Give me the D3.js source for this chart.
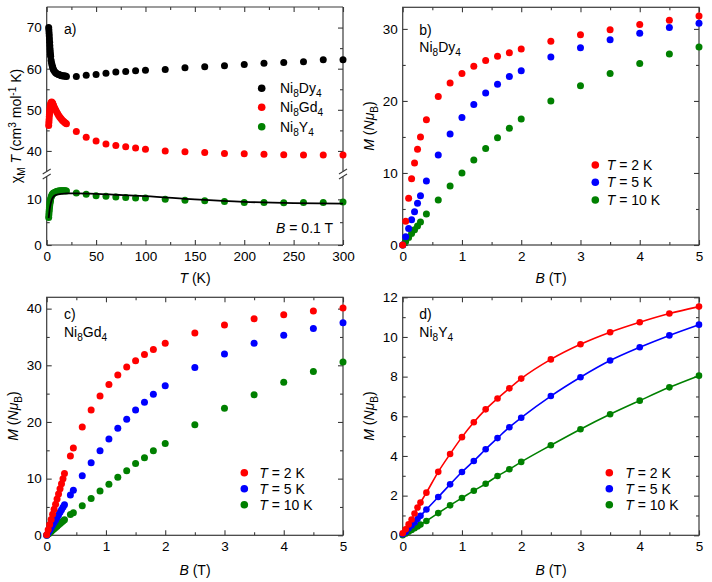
<!DOCTYPE html>
<html><head><meta charset="utf-8">
<script src="https://cdn.jsdelivr.net/npm/d3@7"></script>
<style>
body{margin:0;background:#fff}
text{font-family:"Liberation Sans",Arial,sans-serif;fill:#000}
</style>
</head><body><script>
// ---------- DATA ----------
// Panel a: chi_M T vs T (B = 0.1 T)
const T_a = [2,2.2,2.4,2.6,2.8,3,3.2,3.4,3.6,3.8,4,4.5,5,5.5,6,6.5,7,8,9,10,11,12,13,14,15,16,17,18,19,20,
             30,40,50,60,70,80,90,100,120,140,160,180,200,220,240,260,280,300];
const chiT_Dy = [70.0,69.4,68.7,68.0,67.2,66.4,65.6,64.8,64.1,63.5,63.0,62.0,61.3,60.8,60.4,60.0,59.7,59.3,59.0,58.8,58.7,58.6,58.5,58.4,58.3,58.3,58.2,58.2,58.2,58.1,
                 58.1,58.4,58.6,58.9,59.2,59.3,59.5,59.6,59.8,60.2,60.5,60.7,61.0,61.3,61.5,61.7,62.2,62.2];
const chiT_Gd = [46.2,46.9,47.6,48.3,48.9,49.5,50.0,50.5,50.9,51.2,51.5,51.8,51.9,51.8,51.6,51.3,51.0,50.5,50.0,49.5,49.1,48.7,48.3,48.0,47.7,47.4,47.2,47.0,46.8,46.6,
                 44.7,43.3,42.4,41.7,41.3,41.0,40.7,40.4,40.0,39.8,39.6,39.4,39.3,39.2,39.1,39.0,39.0,39.0];
const chiT_Y  = [6.0,6.6,7.2,7.7,8.2,8.6,9.0,9.3,9.6,9.9,10.1,10.5,10.8,11.0,11.2,11.3,11.4,11.5,11.6,11.7,11.75,11.8,11.85,11.9,11.9,11.9,11.9,11.9,11.9,11.85,
                 11.4,11.1,10.8,10.7,10.5,10.4,10.3,10.3,10.0,9.8,9.7,9.5,9.3,9.3,9.25,9.3,9.3,9.4];
const T_fit = [2,3,4,5,6,8,10,12,15,20,30,50,70,100,150,200,250,300];
const chiT_fit = [5.9,7.8,9.0,9.8,10.3,10.8,11.0,11.1,11.2,11.3,11.3,11.2,11.0,10.7,10.0,9.45,9.15,9.05];

// Panel b: Ni8Dy4 M vs B
const B_b = [0,0.05,0.1,0.15,0.2,0.25,0.3,0.4,0.6,0.8,1.0,1.2,1.4,1.6,1.8,2.0,2.5,3,3.5,4,4.5,5];
const M_Dy_2K  = [0,3.3,6.5,9.2,11.4,13.3,15.0,17.4,20.6,22.5,23.8,24.8,25.6,26.2,26.7,27.2,28.3,29.2,29.9,30.6,31.2,31.8];
const M_Dy_5K  = [0,1.15,2.3,3.5,4.6,5.8,6.85,8.9,12.5,15.4,17.7,19.5,21.1,22.3,23.4,24.2,26.1,27.4,28.5,29.4,30.2,30.8];
const M_Dy_10K = [0,0.5,1.05,1.6,2.1,2.65,3.2,4.3,6.25,8.2,10.0,11.8,13.4,14.9,16.2,17.5,20.0,22.1,23.8,25.2,26.5,27.5];

// Panel c: Ni8Gd4 M vs B
const B_c = [0,0.025,0.05,0.075,0.1,0.125,0.15,0.175,0.2,0.225,0.25,0.275,0.3,0.4,0.45,0.6,0.75,0.9,1.05,1.2,1.35,1.5,1.65,1.8,2.0,2.5,3,3.5,4,4.5,5];
const M_Gd_2K  = [0.1,1.0,1.9,2.8,3.7,4.6,5.5,6.4,7.3,8.2,9.1,10.0,10.9,14.0,15.4,19.1,22.1,24.6,26.6,28.3,29.7,30.8,31.9,32.8,33.9,35.7,37.1,38.2,38.9,39.6,40.1];
const M_Gd_5K  = [0,0.45,0.9,1.35,1.8,2.25,2.7,3.15,3.6,4.05,4.5,4.95,5.4,7.1,7.95,10.5,12.8,14.9,17.0,18.9,20.5,22.1,23.5,24.9,26.4,29.6,32.0,33.9,35.3,36.5,37.5];
const M_Gd_10K = [0,0.23,0.46,0.69,0.92,1.15,1.38,1.61,1.84,2.07,2.3,2.53,2.76,3.65,4.0,5.2,6.5,7.8,9.0,10.25,11.4,12.65,13.7,14.9,16.2,19.5,22.4,24.8,27.0,28.9,30.6];

// Panel d: Ni8Y4 M vs B
const B_d = [0,0.05,0.1,0.15,0.2,0.25,0.3,0.4,0.6,0.8,1.0,1.2,1.4,1.6,1.8,2.0,2.5,3,3.5,4,4.5,5];
const M_Y_2K  = [0.1,0.3,0.55,0.8,1.1,1.4,1.65,2.15,3.2,4.1,4.95,5.7,6.35,6.9,7.41,7.9,8.87,9.63,10.24,10.74,11.18,11.53];
const M_Y_5K  = [0.05,0.17,0.35,0.5,0.65,0.82,0.98,1.3,1.93,2.57,3.19,3.75,4.34,4.9,5.45,5.93,7.02,7.97,8.81,9.48,10.08,10.62];
const M_Y_10K = [0,0.09,0.18,0.27,0.36,0.45,0.54,0.72,1.12,1.51,1.88,2.25,2.6,2.99,3.33,3.7,4.54,5.35,6.1,6.79,7.46,8.05];

// Tick values
const ticksT = [0,50,100,150,200,250,300];
const ticksTminor = [25,75,125,175,225,275];
const ticksB = [0,1,2,3,4,5];
const ticksBminor = [0.5,1.5,2.5,3.5,4.5];
const tempLabels = ["2","5","10"];

// ---------- HELPERS ----------
const W=712,H=582;
const RED="#ff0000", BLUE="#0000ff", GREEN="#008000", BLACK="#000000";
const AX="#3a3a3a";
const R=3.5;
const svg=d3.select("body").append("svg").attr("width",W).attr("height",H);

function rich(t, parts){
  let shift=0;
  parts.forEach(p=>{
    const s=p[0], st=p[1]||"";
    const ts=t.append("tspan").text(s);
    const target = st.includes("sub")?4 : st.includes("sup")?-5 : 0;
    if(target-shift!==0) ts.attr("dy", target-shift);
    shift=target;
    if(st.includes("sub")||st.includes("sup")) ts.attr("font-size","0.72em");
    if(st.includes("it")) ts.attr("font-style","italic");
  });
  return t;
}
function styleAxis(g){
  g.select(".domain").remove();
  g.selectAll(".tick line").attr("stroke",AX).attr("stroke-width",1.1);
  g.selectAll("text").attr("font-family",'"Liberation Sans",Arial,sans-serif').attr("font-size",13.5).attr("fill","#000");
  g.attr("font-family",null).attr("font-size",null);
  return g;
}
function xAxes(x, yb, yt, major, minor){
  styleAxis(svg.append("g").attr("transform",`translate(0,${yb})`).call(d3.axisBottom(x).tickValues(major).tickSize(-5).tickPadding(6.5).tickFormat(d3.format("d"))));
  styleAxis(svg.append("g").attr("transform",`translate(0,${yb})`).call(d3.axisBottom(x).tickValues(minor).tickSize(-3).tickFormat("")));
  styleAxis(svg.append("g").attr("transform",`translate(0,${yt})`).call(d3.axisTop(x).tickValues(major).tickSize(-5).tickFormat("")));
  styleAxis(svg.append("g").attr("transform",`translate(0,${yt})`).call(d3.axisTop(x).tickValues(minor).tickSize(-3).tickFormat("")));
}
function yAxes(y, xl, xr, major, minor){
  styleAxis(svg.append("g").attr("transform",`translate(${xl},0)`).call(d3.axisLeft(y).tickValues(major).tickSize(-5).tickPadding(5).tickFormat(d3.format("d"))));
  styleAxis(svg.append("g").attr("transform",`translate(${xl},0)`).call(d3.axisLeft(y).tickValues(minor).tickSize(-3).tickFormat("")));
  styleAxis(svg.append("g").attr("transform",`translate(${xr},0)`).call(d3.axisRight(y).tickValues(major).tickSize(-5).tickFormat("")));
  styleAxis(svg.append("g").attr("transform",`translate(${xr},0)`).call(d3.axisRight(y).tickValues(minor).tickSize(-3).tickFormat("")));
}
function frame(x,y){
  const [x0,x1]=x.range(), [y0,y1]=y.range();
  svg.append("rect").attr("x",x0).attr("y",y1).attr("width",x1-x0).attr("height",y0-y1)
    .attr("fill","none").attr("stroke",AX).attr("stroke-width",1.2);
}
function seg(x1,y1,x2,y2,w){
  svg.append("line").attr("x1",x1).attr("y1",y1).attr("x2",x2).attr("y2",y2).attr("stroke",AX).attr("stroke-width",w||1.2);
}
function dots(x,y,xs,ys,color,r){
  svg.append("g").selectAll("circle").data(xs.map((v,i)=>[v,ys[i]])).join("circle")
    .attr("cx",d=>x(d[0])).attr("cy",d=>y(d[1])).attr("r",r).attr("fill",color);
}
function line(x,y,xs,ys,color,w){
  svg.append("path").datum(xs.map((v,i)=>[v,ys[i]]))
    .attr("d",d3.line().x(d=>x(d[0])).y(d=>y(d[1])).curve(d3.curveMonotoneX))
    .attr("fill","none").attr("stroke",color).attr("stroke-width",w);
}
function txt(x,y,parts,opts){
  opts=opts||{};
  const t=svg.append("text").attr("x",x).attr("y",y).attr("font-size",opts.size||14)
    .attr("text-anchor",opts.anchor||"start");
  if(opts.rotate) t.attr("transform",`rotate(-90,${x},${y})`);
  return rich(t,parts);
}
function tempLegend(cx, tx, ys){
  const cols=[RED,BLUE,GREEN];
  ys.forEach((yy,i)=>{
    svg.append("circle").attr("cx",cx).attr("cy",yy).attr("r",3.8).attr("fill",cols[i]);
    txt(tx, yy+5, [["T","it"],[" = "+tempLabels[i]+" K"]]);
  });
}
const MTitle = [["M","it"],[" ("],["N","it"],["μ","it"],["B","sub"],[")"]];
const BTitle = [["B","it"],[" (T)"]];

// ---------- PANEL A ----------
{
  const x=d3.scaleLinear([0,300],[46.7,343]);
  const yU=d3.scaleLinear([35,75],[171.5,7]);
  const yL=d3.scaleLinear([0,15],[245,176.5]);
  const [x0,x1]=x.range();
  xAxes(x, 245, 7, ticksT, ticksTminor);
  yAxes(yU, x0, x1, [40,50,60,70], [45,55,65]);
  yAxes(yL, x0, x1, [0,10], [5]);
  seg(x0,7,x1,7); seg(x0,245,x1,245);
  seg(x0,7,x0,171.5); seg(x0,176.5,x0,245);
  seg(x1,7,x1,171.5); seg(x1,176.5,x1,245);
  [171.5,176.5].forEach(yb=>{ seg(x0-4,yb+2.5,x0+4,yb-2.5,1.1); seg(x1-4,yb+2.5,x1+4,yb-2.5,1.1); });

  dots(x,yU,T_a,chiT_Dy,BLACK,R);
  dots(x,yU,T_a,chiT_Gd,RED,R);
  dots(x,yL,T_a,chiT_Y,GREEN,R);
  line(x,yL,T_fit,chiT_fit,BLACK,1.8);

  txt(64,34,[["a)"]]);
  const names=[[["Ni"],["8","sub"],["Dy"],["4","sub"]],[["Ni"],["8","sub"],["Gd"],["4","sub"]],[["Ni"],["8","sub"],["Y"],["4","sub"]]];
  const cols=[BLACK,RED,GREEN];
  [88.3,107.3,126.7].forEach((yy,i)=>{
    svg.append("circle").attr("cx",261.7).attr("cy",yy).attr("r",3.8).attr("fill",cols[i]);
    txt(280,yy+5,names[i]);
  });
  txt(333,233,[["B","it"],[" = 0.1 T"]],{anchor:"end"});
  txt(195,283,[["T","it"],[" (K)"]],{anchor:"middle"});
  txt(21,126,[["χ"],["M","sub"],[" "],["T","it"],[" (cm"],["3","sup"],[" mol"],["-1","sup"],[" K)"]],{anchor:"middle",rotate:true});
}

// ---------- PANEL B ----------
{
  const x=d3.scaleLinear([0,5],[402.7,699]);
  const y=d3.scaleLinear([0,33],[245,7.3]);
  xAxes(x,245,7.3,ticksB,ticksBminor);
  yAxes(y,402.7,699,[0,10,20,30],[5,15,25]);
  frame(x,y);
  dots(x,y,B_b,M_Dy_10K,GREEN,R);
  dots(x,y,B_b,M_Dy_5K,BLUE,R);
  dots(x,y,B_b,M_Dy_2K,RED,R);
  txt(419.3,35,[["b)"]]);
  txt(419.3,52,[["Ni"],["8","sub"],["Dy"],["4","sub"]]);
  tempLegend(595.3,606.7,[165,182.3,200]);
  txt(551,283,BTitle,{anchor:"middle"});
  txt(374,126,MTitle,{anchor:"middle",rotate:true});
}

// ---------- PANEL C ----------
{
  const x=d3.scaleLinear([0,5],[46.7,343]);
  const y=d3.scaleLinear([0,42],[535.3,297.3]);
  xAxes(x,535.3,297.3,ticksB,ticksBminor);
  yAxes(y,46.7,343,[0,10,20,30,40],[5,15,25,35]);
  frame(x,y);
  dots(x,y,B_c,M_Gd_10K,GREEN,R);
  dots(x,y,B_c,M_Gd_5K,BLUE,R);
  dots(x,y,B_c,M_Gd_2K,RED,R);
  txt(64,319,[["c)"]]);
  txt(64,337,[["Ni"],["8","sub"],["Gd"],["4","sub"]]);
  tempLegend(244.3,259.3,[472.7,488.7,504.7]);
  txt(195,575,BTitle,{anchor:"middle"});
  txt(18,416,MTitle,{anchor:"middle",rotate:true});
}

// ---------- PANEL D ----------
{
  const x=d3.scaleLinear([0,5],[402.7,699]);
  const y=d3.scaleLinear([0,12],[535.3,297.3]);
  xAxes(x,535.3,297.3,ticksB,ticksBminor);
  yAxes(y,402.7,699,[0,2,4,6,8,10,12],[1,3,5,7,9,11]);
  frame(x,y);
  line(x,y,B_d,M_Y_10K,GREEN,1.6);
  line(x,y,B_d,M_Y_5K,BLUE,1.6);
  line(x,y,B_d,M_Y_2K,RED,1.6);
  dots(x,y,B_d,M_Y_10K,GREEN,3.3);
  dots(x,y,B_d,M_Y_5K,BLUE,3.3);
  dots(x,y,B_d,M_Y_2K,RED,3.3);
  txt(419.3,319,[["d)"]]);
  txt(419.3,337,[["Ni"],["8","sub"],["Y"],["4","sub"]]);
  tempLegend(609.3,625.3,[472.7,488.7,504.7]);
  txt(551,575,BTitle,{anchor:"middle"});
  txt(374,416,MTitle,{anchor:"middle",rotate:true});
}
</script></body></html>
